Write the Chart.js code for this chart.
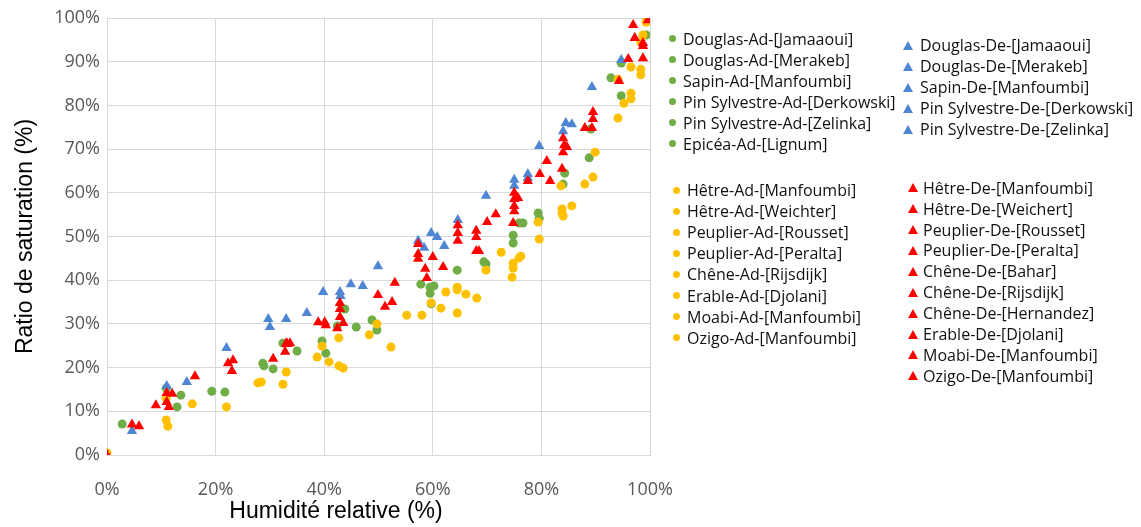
<!DOCTYPE html>
<html>
<head>
<meta charset="utf-8">
<script src="https://cdn.jsdelivr.net/npm/chart.js@4.4.0/dist/chart.umd.min.js"></script>
<style>
  body { margin: 0; background: #fff; }
  #wrap { position: relative; width: 1141px; height: 527px; }
  .item { position: absolute; font: 16px "Open Sans", sans-serif; color: #111; white-space: nowrap; line-height: 20px; }
  .mk { position: absolute; }
</style>
</head>
<body>
<div id="wrap">
  <canvas id="satChart" width="1141" height="527"></canvas>
  <div id="legend"></div>
</div>
<script>
// points as [humidité relative %, ratio de saturation %]

// resineux - adsorption (green circles)
const douglasAdJamaaoui = [[2.8,7.1],[12.9,11],[28.7,21],[40.3,23.3],[49.7,28.6],[59.7,34.6],[69.8,43.7],[79.6,54.2],[88.8,68],[94.7,82.2]];
const douglasAdMerakeb = [[10.9,15.3],[30.6,19.7],[42.4,29.5],[59.5,37],[74.8,48.5],[84.3,64.5],[99.3,96.1]];
const sapinAdManfoumbi = [[13.6,13.7],[32.4,25.6],[45.9,29.3],[60.2,38.7],[75.9,53.1],[89.1,74.6],[94.7,89.7]];
const pinAdDerkowski = [[19.3,14.6],[28.9,20.4],[43.8,33.4],[57.8,39.1],[69.4,44.2],[79.4,55.4],[92.8,86.3]];
const pinAdZelinka = [[21.7,14.4],[35,23.8],[48.8,30.9],[64.5,42.3],[74.8,50.3],[84,62]];
const epiceaAdLignum = [[39.6,26.1],[59.5,38.4],[76.6,53.1]];

// resineux - desorption (blue triangles)
const douglasDeJamaaoui = [[4.6,5.5],[22,24.5],[39.8,37.3],[57.3,49],[75,63],[89.3,84.2],[97.2,95.4]];
const douglasDeMerakeb = [[11,15.8],[29.7,31.1],[42.9,37.3],[59.7,50.8],[77.5,64.3],[94.7,90.4]];
const sapinDeManfoumbi = [[14.7,16.7],[33,31.1],[44.9,39.1],[60.8,49.9],[75,61.6],[84,74.1]];
const pinDeDerkowski = [[30,29.3],[43,36.4],[58.4,47.4],[69.8,59.3],[79.6,70.7],[84.5,76]];
const pinDeZelinka = [[36.8,32.5],[47.1,38.7],[49.9,43.2],[62.1,47.8],[64.6,53.8],[77.5,63.4],[85.6,75.7]];

// feuillus - adsorption (yellow circles)
const hetreAdManfoumbi = [[0,0.5],[11.2,6.6],[22,11],[33,19],[43.5,19.9],[52.3,24.7],[64.5,32.5],[74.6,40.7],[79.6,49.4],[89.5,63.6],[94.1,77.1],[99.4,100]];
const hetreAdWeichter = [[10.9,8],[28.4,16.7],[42.7,20.4],[58,32],[75.9,45.1],[84,54.7],[96.5,81.5],[98.3,94.5]];
const peuplierAdRousset = [[10.9,13],[27.8,16.5],[40.9,21.3],[55.2,32],[74.8,42.8],[83.8,55.4],[95.2,80.5],[98.3,87]];
const peuplierAdPeralta = [[15.7,11.7],[32.4,16.2],[48.3,27.5],[61.5,33.6],[74.8,43.9],[83.8,56.3],[96.5,82.8]];
const cheneAdRijsdijk = [[38.7,22.4],[49.7,30],[62.4,37.3],[68.1,35.9],[76.2,45.5],[85.6,57],[98.3,88.3]];
const erableAdDjolani = [[39.6,24.9],[59.7,34.8],[64.5,37.8],[72.6,46.4],[83.6,61.6],[96.5,88.8]];
const moabiAdManfoumbi = [[42.7,26.8],[64.5,38.4],[69.8,42.3],[79.4,53.3],[89.9,69.3],[94.1,86],[98.7,96.1]];
const ozigoAdManfoumbi = [[66.1,36.8],[88,62],[99.3,99]];

// feuillus - desorption (red triangles)
const hetreDeManfoumbi = [[0,0],[11,14.2],[23,19.2],[33.2,25.4],[42.9,31.6],[57.3,44.9],[68,46.7],[75,55.8],[84,69.3],[96,90.6],[99.6,99.5]];
const hetreDeWeichert = [[4.6,7],[12,14],[22.3,21],[33,25.6],[42.9,34.8],[57.3,48.3],[64.6,52.6],[75,60],[84.7,70.5],[98.7,94.3]];
const peuplierDeRousset = [[5.9,6.6],[11.4,11],[30.6,22],[40.1,30.4],[51.2,33.9],[58.9,40.5],[68.5,46.7],[75.7,58.8],[88,74.8],[98.7,90.8]];
const peuplierDePeralta = [[9,11.4],[16.2,18],[32.8,23.6],[42.4,29],[52.5,35],[60,45.3],[70,53.3],[79.7,64.3],[89.5,76.9]];
const cheneDeBahar = [[11,12.1],[23.2,21.7],[38.9,30.4],[49.9,36.6],[61.9,43],[71.6,55.1],[81,67.3],[89.5,78.5]];
const cheneDeRijsdijk = [[33.7,25.6],[43.5,30.2],[57.3,46],[64.6,49],[75,57],[84.2,70.9],[94.3,85.6]];
const cheneDeHernandez = [[40.3,29.7],[53,39.4],[64.6,50.8],[74.8,53.1],[83.8,65.5],[97.2,95.4]];
const erableDeDjolani = [[42.9,33.4],[58.6,42.6],[68,51.3],[77.5,62.7],[89.3,74.8],[98.7,93.6]];
const moabiDeManfoumbi = [[68,49.9],[75,58.6],[84,72.5],[96.9,98.4]];
const ozigoDeManfoumbi = [[81.6,62.7]];

const xTicks = [0, 20, 40, 60, 80, 100];
const yTicks = [0, 10, 20, 30, 40, 50, 60, 70, 80, 90, 100];

const GREEN = '#70ad47', BLUE = '#4f86d4', YELLOW = '#ffc000', RED = '#ff0000';

const groups = [
  { color: GREEN, style: 'circle', order: 3, legend: { mx: 672, tx: 683, y0: 38.5, dy: 21 }, series: [
    ['Douglas-Ad-[Jamaaoui]', douglasAdJamaaoui],
    ['Douglas-Ad-[Merakeb]', douglasAdMerakeb],
    ['Sapin-Ad-[Manfoumbi]', sapinAdManfoumbi],
    ['Pin Sylvestre-Ad-[Derkowski]', pinAdDerkowski],
    ['Pin Sylvestre-Ad-[Zelinka]', pinAdZelinka],
    ['Epicéa-Ad-[Lignum]', epiceaAdLignum]] },
  { color: BLUE, style: 'triangle', order: 2, legend: { mx: 908, tx: 920, y0: 45, dy: 21 }, series: [
    ['Douglas-De-[Jamaaoui]', douglasDeJamaaoui],
    ['Douglas-De-[Merakeb]', douglasDeMerakeb],
    ['Sapin-De-[Manfoumbi]', sapinDeManfoumbi],
    ['Pin Sylvestre-De-[Derkowski]', pinDeDerkowski],
    ['Pin Sylvestre-De-[Zelinka]', pinDeZelinka]] },
  { color: YELLOW, style: 'circle', order: 1, legend: { mx: 676, tx: 687, y0: 190, dy: 21.1 }, series: [
    ['Hêtre-Ad-[Manfoumbi]', hetreAdManfoumbi],
    ['Hêtre-Ad-[Weichter]', hetreAdWeichter],
    ['Peuplier-Ad-[Rousset]', peuplierAdRousset],
    ['Peuplier-Ad-[Peralta]', peuplierAdPeralta],
    ['Chêne-Ad-[Rijsdijk]', cheneAdRijsdijk],
    ['Erable-Ad-[Djolani]', erableAdDjolani],
    ['Moabi-Ad-[Manfoumbi]', moabiAdManfoumbi],
    ['Ozigo-Ad-[Manfoumbi]', ozigoAdManfoumbi]] },
  { color: RED, style: 'triangle', order: 0, legend: { mx: 913, tx: 923, y0: 187.7, dy: 20.9 }, series: [
    ['Hêtre-De-[Manfoumbi]', hetreDeManfoumbi],
    ['Hêtre-De-[Weichert]', hetreDeWeichert],
    ['Peuplier-De-[Rousset]', peuplierDeRousset],
    ['Peuplier-De-[Peralta]', peuplierDePeralta],
    ['Chêne-De-[Bahar]', cheneDeBahar],
    ['Chêne-De-[Rijsdijk]', cheneDeRijsdijk],
    ['Chêne-De-[Hernandez]', cheneDeHernandez],
    ['Erable-De-[Djolani]', erableDeDjolani],
    ['Moabi-De-[Manfoumbi]', moabiDeManfoumbi],
    ['Ozigo-De-[Manfoumbi]', ozigoDeManfoumbi]] }
];

const datasets = [];
groups.forEach(g => {
  g.series.forEach(([label, pts]) => {
    datasets.push({
      label: label,
      data: pts.map(p => ({ x: p[0], y: p[1] })),
      backgroundColor: g.color,
      borderColor: g.color,
      borderWidth: 0,
      pointStyle: g.style,
      pointRadius: g.style === 'triangle' ? 6 : 4.5,
      order: g.order
    });
  });
});

const tickFont = { family: 'Open Sans', size: 18 };

// x axis title sits left of centre in the original, so draw it by hand
const xTitle = {
  id: 'xTitle',
  afterDraw(chart) {
    const ctx = chart.ctx;
    ctx.save();
    ctx.font = '23px "Liberation Sans"';
    ctx.fillStyle = '#000';
    ctx.textAlign = 'center';
    ctx.textBaseline = 'middle';
    ctx.fillText('Humidité relative (%)', 336, 512);
    ctx.restore();
  }
};

new Chart(document.getElementById('satChart'), {
  type: 'scatter',
  data: { datasets: datasets },
  plugins: [xTitle],
  options: {
    responsive: false,
    animation: false,
    layout: { padding: { left: 0, top: 18, right: 491, bottom: 0 } },
    plugins: { legend: { display: false }, tooltip: { enabled: false } },
    scales: {
      x: {
        type: 'linear', min: 0, max: 100,
        afterBuildTicks(s) { s.ticks = xTicks.map(v => ({ value: v })); },
        afterFit(s) { s.height = 72; },
        ticks: { callback: v => v + '%', color: '#595959', font: tickFont, padding: 24, maxRotation: 0 },
        grid: { color: '#d9d9d9', drawTicks: false },
        border: { color: '#d9d9d9' }
      },
      y: {
        min: 0, max: 100,
        afterBuildTicks(s) { s.ticks = yTicks.map(v => ({ value: v })); },
        afterFit(s) { s.width = 107; },
        ticks: { callback: v => v + '%', color: '#595959', font: tickFont, padding: 7 },
        grid: { color: '#d9d9d9', drawTicks: false },
        border: { color: '#d9d9d9' },
        title: { display: true, text: 'Ratio de saturation (%)', color: '#000',
                 font: { family: 'Liberation Sans', size: 23 }, padding: { top: 12, bottom: 0 } }
      }
    }
  }
});

// legend in four blocks, built from the same groups
const legendEl = document.getElementById('legend');
groups.forEach(g => {
  g.series.forEach(([label], i) => {
    const cy = g.legend.y0 + i * g.legend.dy;
    const mk = document.createElement('div');
    mk.className = 'mk';
    if (g.style === 'circle') {
      mk.style.cssText = `left:${g.legend.mx - 3.5}px;top:${cy - 3.5}px;width:7px;height:7px;border-radius:50%;background:${g.color};`;
    } else {
      mk.style.cssText = `left:${g.legend.mx - 5}px;top:${cy - 4.5}px;width:0;height:0;border-left:5px solid transparent;border-right:5px solid transparent;border-bottom:9px solid ${g.color};`;
    }
    legendEl.appendChild(mk);
    const t = document.createElement('div');
    t.className = 'item';
    t.style.left = g.legend.tx + 'px';
    t.style.top = (cy - 10) + 'px';
    t.textContent = label;
    legendEl.appendChild(t);
  });
});
</script>
</body>
</html>
